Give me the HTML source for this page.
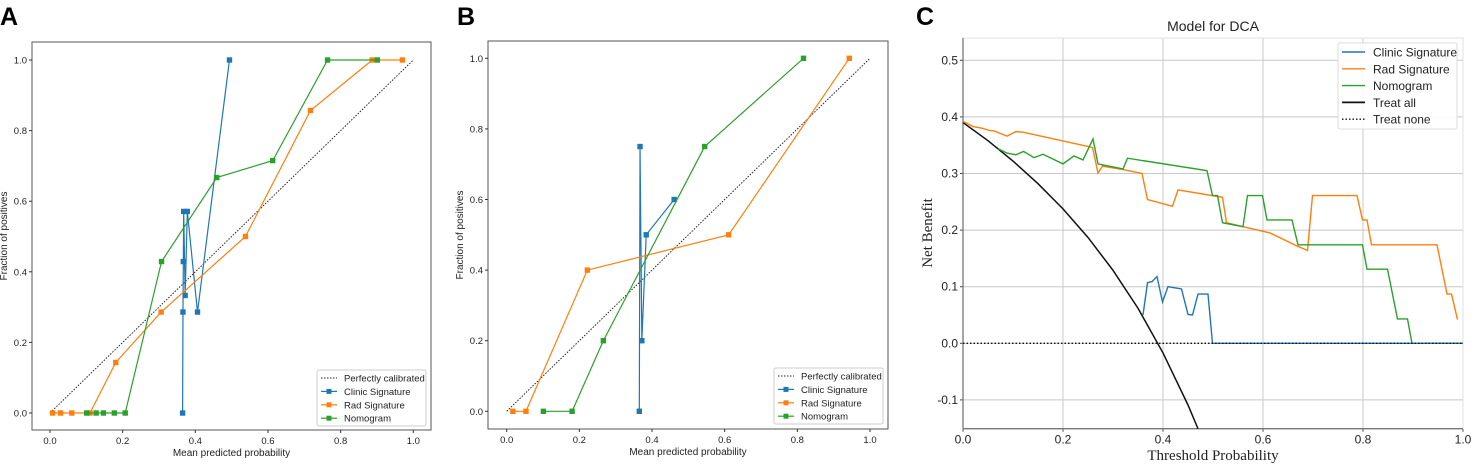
<!DOCTYPE html>
<html><head><meta charset="utf-8"><style>
body{margin:0;background:#fff;}
svg{display:block;font-family:"Liberation Sans",sans-serif;}
</style></head><body>
<svg id="fig" width="1477" height="465" viewBox="0 0 1477 465">
<text x="0" y="25" font-size="25" font-weight="bold">A</text>
<text x="457" y="25" font-size="25" font-weight="bold">B</text>
<text x="916" y="25" font-size="25" font-weight="bold">C</text>
</svg>
<script>
// ---- Panel A data ----
const aClinicX=[0.365,0.366,0.367,0.368,0.372,0.378,0.406,0.494];
const aClinicY=[0,0.286,0.429,0.571,0.333,0.571,0.286,1.0];
const aRadX=[0.007,0.029,0.06,0.11,0.181,0.306,0.538,0.717,0.887,0.97];
const aRadY=[0,0,0,0,0.143,0.286,0.5,0.857,1,1];
const aNomoX=[0.101,0.127,0.147,0.177,0.207,0.307,0.459,0.613,0.764,0.901];
const aNomoY=[0,0,0,0,0,0.429,0.667,0.715,1,1];
// ---- Panel B data ----
const bClinicX=[0.365,0.367,0.372,0.384,0.461];
const bClinicY=[0,0.75,0.2,0.5,0.6];
const bRadX=[0.017,0.053,0.222,0.611,0.943];
const bRadY=[0,0,0.4,0.5,1];
const bNomoX=[0.101,0.18,0.266,0.545,0.817];
const bNomoY=[0,0,0.2,0.75,1];
const calTicks=["0.0","0.2","0.4","0.6","0.8","1.0"];
// ---- Panel C data ----
const cRadX=[0,0.02,0.038,0.053,0.063,0.088,0.106,0.12,0.259,0.27,0.279,0.32,0.358,0.369,0.419,0.43,0.519,0.527,0.56,0.614,0.668,0.689,0.699,0.788,0.799,0.808,0.817,0.948,0.968,0.977,0.989];
const cRadY=[0.392,0.383,0.38,0.376,0.375,0.366,0.374,0.373,0.346,0.301,0.313,0.307,0.3,0.254,0.242,0.271,0.258,0.213,0.206,0.195,0.172,0.164,0.261,0.261,0.218,0.218,0.174,0.174,0.087,0.087,0.042];
const cNomoX=[0.07,0.088,0.106,0.121,0.142,0.16,0.2,0.222,0.24,0.26,0.27,0.32,0.329,0.488,0.499,0.509,0.519,0.56,0.569,0.599,0.608,0.658,0.67,0.799,0.808,0.849,0.869,0.889,0.898,1.0];
const cNomoY=[0.344,0.336,0.333,0.339,0.328,0.334,0.317,0.331,0.324,0.361,0.317,0.308,0.327,0.305,0.261,0.261,0.213,0.206,0.261,0.261,0.218,0.218,0.174,0.174,0.131,0.131,0.043,0.043,0,0];
const cClinicX=[0.36,0.369,0.378,0.388,0.399,0.41,0.437,0.45,0.459,0.47,0.49,0.499,1.0];
const cClinicY=[0.05,0.107,0.109,0.118,0.073,0.1,0.096,0.051,0.05,0.087,0.087,0,0];
const cAllX=[0,0.05,0.1,0.15,0.2,0.25,0.3,0.35,0.4,0.45,0.47];
const cAllY=[0.39,0.358,0.322,0.282,0.2375,0.187,0.129,0.062,-0.017,-0.109,-0.151];
const cXTicks=["0.0","0.2","0.4","0.6","0.8","1.0"];
const cYTicks=["-0.1","0.0","0.1","0.2","0.3","0.4","0.5"];

const NS="http://www.w3.org/2000/svg";
const svg=document.getElementById('fig');
function mk(tag,attrs,parent){const e=document.createElementNS(NS,tag);for(const k in attrs)e.setAttribute(k,attrs[k]);(parent||svg).appendChild(e);return e;}
const BLUE="#1f77b4",ORANGE="#ff7f0e",GREEN="#2ca02c";

function calPanel(p,series,id){
  const sx=v=>p.x0+(p.x1-p.x0)*v, sy=v=>p.y0+(p.y1-p.y0)*v;
  const g=mk('g',{});
  
  
  const box=mk('rect',{x:p.L,y:p.T,width:p.R-p.L,height:p.B-p.T,fill:'none',stroke:'#555','stroke-width':1},g);
  
  
  calTicks.forEach((t,i)=>{
    const v=parseFloat(t);
    mk('line',{x1:sx(v),x2:sx(v),y1:p.B,y2:p.B+3,stroke:'#333'},g);
    const tx=mk('text',{x:sx(v),y:p.B+14,'font-size':9.5,'text-anchor':'middle',fill:'#222'},g);tx.textContent=t;
    
    
    mk('line',{x1:p.L-3,x2:p.L,y1:sy(v),y2:sy(v),stroke:'#333'},g);
    const ty=mk('text',{x:p.L-5,y:sy(v)+3.5,'font-size':9.5,'text-anchor':'end',fill:'#222'},g);ty.textContent=t;
    
    
  });
  const xl=mk('text',{x:(p.L+p.R)/2,y:p.B+26,'font-size':10,'text-anchor':'middle',fill:'#222'},g);xl.textContent='Mean predicted probability';
  
  
  const yx=p.L-25, yy=(p.T+p.B)/2;
  const yl=mk('text',{x:yx,y:yy,'font-size':10,'text-anchor':'middle',fill:'#222',transform:`rotate(-90 ${yx} ${yy})`},g);yl.textContent='Fraction of positives';
  
  
  const diag=mk('line',{x1:sx(0),y1:sy(0),x2:sx(1),y2:sy(1),stroke:'#222','stroke-dasharray':'1.5,1.5','stroke-width':1},g);
  
  
  series.forEach(s=>{
    const pts=s.x.map((v,i)=>sx(v)+','+sy(s.y[i])).join(' ');
    const pl=mk('polyline',{points:pts,fill:'none',stroke:s.c,'stroke-width':1.2},g);
    
    
    s.x.forEach((v,i)=>{
      const m=mk('rect',{x:sx(v)-2.7,y:sy(s.y[i])-2.7,width:5.4,height:5.4,fill:s.c},g);
      
      
    });
  });
  // legend
  const lg=mk('g',{},g);
  
  
  mk('rect',{x:p.lx,y:p.ly,width:p.lw,height:56,fill:'#fff',stroke:'#ccc',rx:2},lg);
  const items=[{n:'Perfectly calibrated',c:'#222',d:true}].concat(series.map(s=>({n:s.label,c:s.c})));
  items.forEach((it,i)=>{
    const yy2=p.ly+8+i*13.4;
    mk('line',{x1:p.lx+4,x2:p.lx+20,y1:yy2,y2:yy2,stroke:it.c,'stroke-width':it.d?1:1.2,'stroke-dasharray':it.d?'1.5,1.5':'none'},lg);
    if(!it.d)mk('rect',{x:p.lx+9.5,y:yy2-2.5,width:5,height:5,fill:it.c},lg);
    const t=mk('text',{x:p.lx+27,y:yy2+3.5,'font-size':9.5,fill:'#222'},lg);t.textContent=it.n;
    
    
  });
}
calPanel({L:32,R:431,T:42,B:430,x0:50,x1:413.3,y0:413,y1:60,lx:317,ly:370,lw:109},
 [{n:'clinic',label:'Clinic Signature',c:BLUE,x:aClinicX,y:aClinicY},
  {n:'rad',label:'Rad Signature',c:ORANGE,x:aRadX,y:aRadY},
  {n:'nomogram',label:'Nomogram',c:GREEN,x:aNomoX,y:aNomoY}],'panel-a');
calPanel({L:488,R:888,T:41,B:429,x0:506.7,x1:870,y0:411.3,y1:58.3,lx:774,ly:368,lw:109},
 [{n:'clinic',label:'Clinic Signature',c:BLUE,x:bClinicX,y:bClinicY},
  {n:'rad',label:'Rad Signature',c:ORANGE,x:bRadX,y:bRadY},
  {n:'nomogram',label:'Nomogram',c:GREEN,x:bNomoX,y:bNomoY}],'panel-b');

// ---- Panel C ----
(function(){
  const L=963,R=1463,T=38,B=428.7;
  const sx=v=>L+(R-L)*v, sy=v=>343.3-v*566;
  const g=mk('g',{});
  
  
  cXTicks.forEach(t=>{const v=parseFloat(t);
    mk('line',{x1:sx(v),x2:sx(v),y1:T,y2:B,stroke:'#c8c8c8','stroke-width':1},g);
    mk('line',{x1:sx(v),x2:sx(v),y1:B,y2:B+3,stroke:'#444'},g);
    const tx=mk('text',{x:sx(v),y:B+15,'font-size':12,'text-anchor':'middle',fill:'#222'},g);tx.textContent=t;
    
    
  });
  cYTicks.forEach(t=>{const v=parseFloat(t);
    mk('line',{x1:L,x2:R,y1:sy(v),y2:sy(v),stroke:'#c8c8c8','stroke-width':1},g);
    mk('line',{x1:L-3,x2:L,y1:sy(v),y2:sy(v),stroke:'#444'},g);
    const ty=mk('text',{x:L-5,y:sy(v)+4,'font-size':12,'text-anchor':'end',fill:'#222'},g);ty.textContent=t;
    
    
  });
  mk('rect',{x:L,y:T,width:R-L,height:B-T,fill:'none',stroke:'#e0e0e0'},g);
  mk('line',{x1:L,x2:L,y1:T,y2:B,stroke:'#777','stroke-width':1.3},g);
  mk('line',{x1:L,x2:R,y1:B,y2:B,stroke:'#777','stroke-width':1.3},g);
  const title=mk('text',{x:1213,y:31,'font-size':14,'text-anchor':'middle',fill:'#222'},g);title.textContent='Model for DCA';
  
  
  const xt=mk('text',{x:1213,y:460,'font-size':15,'text-anchor':'middle',fill:'#222','font-family':'"Liberation Serif",serif'},g);xt.textContent='Threshold Probability';
  
  
  const yt=mk('text',{x:932,y:233,'font-size':15,'text-anchor':'middle',fill:'#222','font-family':'"Liberation Serif",serif',transform:'rotate(-90 932 233)'},g);yt.textContent='Net Benefit';
  
  
  const line=(xs,ys,c,w,name)=>{const pl=mk('polyline',{points:xs.map((v,i)=>sx(v)+','+sy(ys[i])).join(' '),fill:'none',stroke:c,'stroke-width':w},g);
    
    };
  line(cAllX,cAllY,'#111',1.5,'treat-all-line');
  line(cRadX,cRadY,ORANGE,1.4,'rad-signature-line');
  line(cNomoX,cNomoY,GREEN,1.4,'nomogram-line');
  line(cClinicX,cClinicY,BLUE,1.4,'clinic-signature-line');
  const tn=mk('line',{x1:L,x2:R,y1:sy(0),y2:sy(0),stroke:'#111','stroke-width':1.3,'stroke-dasharray':'1.5,2'},g);
  
  
  const lg=mk('g',{},g);
  
  
  mk('rect',{x:1338,y:43,width:119,height:86,fill:'#fff','fill-opacity':0.9,stroke:'#ddd',rx:2},lg);
  const items=[['Clinic Signature',BLUE,0],['Rad Signature',ORANGE,0],['Nomogram',GREEN,0],['Treat all','#111',0],['Treat none','#111',1]];
  items.forEach((it,i)=>{const y=52+i*16.8;
    mk('line',{x1:1342,x2:1365,y1:y,y2:y,stroke:it[1],'stroke-width':it[2]?1.3:(i==3?1.8:1.4),'stroke-dasharray':it[2]?'1.5,2':'none'},lg);
    const t=mk('text',{x:1373,y:y+4.5,'font-size':12,fill:'#222'},lg);t.textContent=it[0];
    
    
  });
})();
</script>
</body></html>
